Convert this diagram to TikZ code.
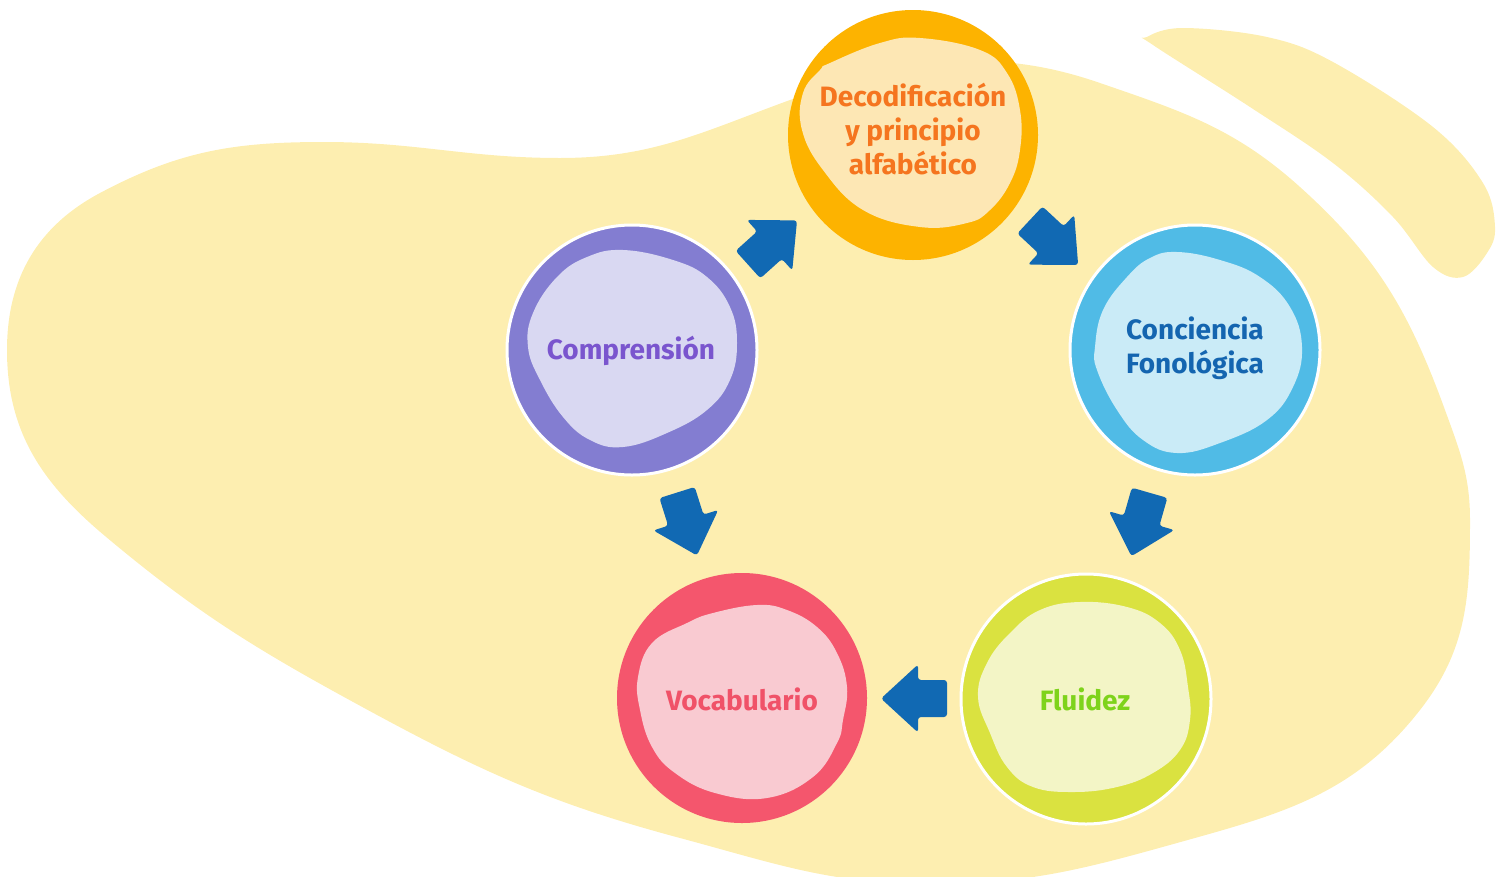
\documentclass[tikz,border=0pt]{standalone}
\usepackage{fontspec}
\setmainfont{Fira Sans}
\usetikzlibrary{calc}
\definecolor{bgyellow}{HTML}{FDEEB0}
\definecolor{arrowblue}{HTML}{1169B3}
\definecolor{decring}{HTML}{FDB300}
\definecolor{decin}{HTML}{FDE7B4}
\definecolor{dectxt}{HTML}{F5751F}
\definecolor{comring}{HTML}{837DD1}
\definecolor{comin}{HTML}{D9D8F2}
\definecolor{comtxt}{HTML}{7A55CE}
\definecolor{conring}{HTML}{50BBE6}
\definecolor{conin}{HTML}{CAEBF7}
\definecolor{contxt}{HTML}{1465B0}
\definecolor{fluring}{HTML}{DAE240}
\definecolor{fluin}{HTML}{F3F5C6}
\definecolor{flutxt}{HTML}{7ED31B}
\definecolor{vocring}{HTML}{F4566D}
\definecolor{vocin}{HTML}{F9CAD1}
\definecolor{voctxt}{HTML}{F05268}
\tikzset{
  ring/.style={circle, minimum size=250pt, inner sep=0pt},
  whiteedge/.style={draw=white, line width=3pt},
  lbl/.style={font=\fontsize{28}{34}\selectfont\bfseries, align=center, inner sep=0pt},
  blockarrow/.pic={\fill[arrowblue, rounded corners=3pt] (-33,-18.5) -- (-4,-18.5) -- (-4,-34) -- (33,0) -- (-4,34) -- (-4,18.5) -- (-33,18.5) -- cycle;}
}
\begin{document}
\begin{tikzpicture}[x=1pt,y=-1pt]
\useasboundingbox (0,0) rectangle (1505,876);
\clip (0,0) rectangle (1505,876);
% background blobs
\fill[bgyellow] (7,350) to[out=90,in=208] (100,193) to[out=28,in=180] (324,142)
  to[out=0,in=180] (560,158) to[out=0,in=200] (790,100) to[out=20,in=180] (913,60)
  to[out=0,in=161] (1100,83) to[out=-19,in=138] (1300,187) to[out=-42,in=110] (1445,410)
  to[out=-70,in=90] (1470,520) to[out=-90,in=52] (1420,710) to[out=232,in=15.6] (1177,843)
  to[out=195.6,in=0] (930,884) to[out=180,in=-15] (680,838) to[out=165,in=-28.5] (366,709)
  to[out=151.5,in=-40] (105,536) to[out=140,in=-90] (7,350) -- cycle;
\fill[bgyellow] plot[smooth cycle, tension=0.6] coordinates {
 (1147,37) (1183,28) (1267,37) (1333,62) (1433,127) (1483,183) (1495,227) (1487,253) (1463,277) (1433,267) (1393,217) (1333,163) (1250,107) (1153,45)};
% rings
\node[ring, fill=decring] (decod) at (913,135) {};
\node[ring, fill=comring, whiteedge] (comp) at (632,350) {};
\node[ring, fill=conring, whiteedge] (conc) at (1195,350) {};
\node[ring, fill=fluring, whiteedge] (flu) at (1086,699) {};
\node[ring, fill=vocring] (voc) at (742,698) {};
% inner blobs
\begin{scope}[shift={(913,135)}]
\fill[decin] plot[smooth cycle, tension=0.7] coordinates {(-83,-72) (-33,-92) (7,-97) (67,-85) (94,-62) (107,-25) (107,15) (97,48) (77,75) (54,88) (7,92) (-50,75) (-90,35) (-111,-5) (-110,-42) (-93,-65)};
\end{scope}
\begin{scope}[shift={(632,350)}]
\fill[comin] plot[smooth cycle, tension=0.7] coordinates {(-9,-100) (41,-90) (75,-73) (98,-43) (105,-7) (98,30) (75,60) (35,83) (-9,97) (-42,90) (-69,67) (-92,30) (-104,-3) (-99,-37) (-75,-73) (-45,-93)};
\end{scope}
\begin{scope}[shift={(1195,350)}]
\fill[conin] plot[smooth cycle, tension=0.7] coordinates {(-18,-98) (25,-90) (65,-73) (95,-43) (107,-3) (98,37) (72,70) (25,93) (-18,103) (-52,90) (-78,60) (-98,20) (-100,-3) (-92,-40) (-68,-73) (-45,-92)};
\end{scope}
\begin{scope}[shift={(1086,699)}]
\fill[fluin] plot[smooth cycle, tension=0.7] coordinates {(-6,-97) (41,-92) (74,-76) (94,-49) (102,-12) (104,21) (94,51) (67,74) (31,88) (-13,93) (-53,88) (-79,68) (-96,34) (-108,-2) (-99,-36) (-76,-66) (-46,-89)};
\end{scope}
\begin{scope}[shift={(742,698)}]
\fill[vocin] plot[smooth cycle, tension=0.7] coordinates {(15,-93) (45,-88) (75,-71) (95,-45) (105,-11) (101,22) (95,45) (71,79) (25,100) (-27,95) (-67,75) (-90,49) (-102,12) (-104,-21) (-90,-55) (-55,-75) (-29,-85)};
\end{scope}
% labels
\node[lbl, text=dectxt] (tdecod) at (913,129) {Decodificación\\y principio\\alfabético};
\node[lbl, text=comtxt] (tcomp) at (631,351) {Comprensión};
\node[lbl, text=contxt] (tconc) at (1195,348) {Conciencia\\Fonológica};
\node[lbl, text=flutxt] (tflu) at (1085,699) {Fluidez};
\node[lbl, text=voctxt] (tvoc) at (742,699) {Vocabulario};
% arrows
\coordinate (a1) at ($(comp)!0.5!(decod)$);
\coordinate (a2) at ($(decod)!0.5!(conc)$);
\coordinate (a3) at ($(conc)!0.5!(flu)$);
\coordinate (a4) at ($(flu)!0.5!(voc)$);
\coordinate (a5) at ($(comp)!0.5!(voc)$);
\pic[rotate=42] at (a1) {blockarrow};
\pic[rotate=-43] at (a2) {blockarrow};
\pic[rotate=-106] at (a3) {blockarrow};
\pic[rotate=180] at (a4) {blockarrow};
\pic[rotate=-72.5] at (a5) {blockarrow};
\end{tikzpicture}
\end{document}
